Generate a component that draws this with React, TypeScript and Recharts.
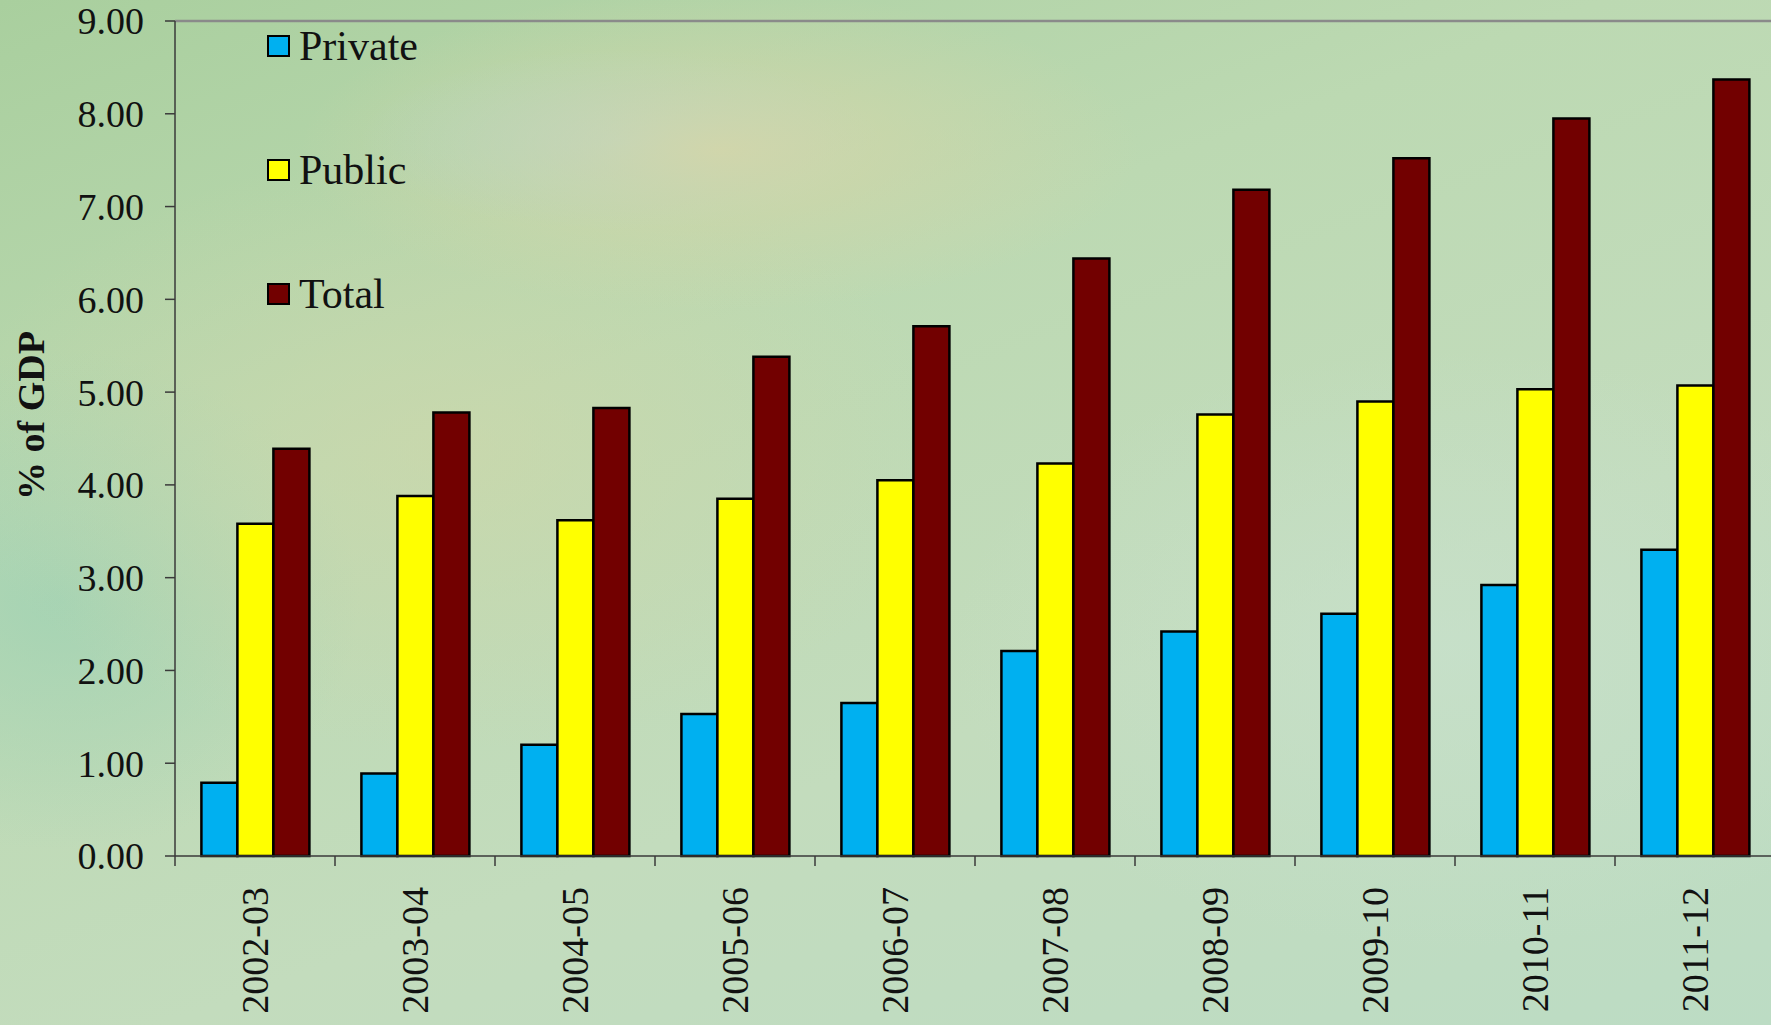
import {
  BarChart,
  Bar,
  XAxis,
  YAxis,
  Legend,
  ReferenceLine,
} from 'recharts'

const years = ['2002-03', '2003-04', '2004-05', '2005-06', '2006-07', '2007-08', '2008-09', '2009-10', '2010-11', '2011-12']
const privateShare = [0.79, 0.89, 1.2, 1.53, 1.65, 2.21, 2.42, 2.61, 2.92, 3.3]
const publicShare = [3.58, 3.88, 3.62, 3.85, 4.05, 4.23, 4.76, 4.9, 5.03, 5.07]
const totalShare = [4.39, 4.78, 4.83, 5.38, 5.71, 6.44, 7.18, 7.52, 7.95, 8.37]
const yTicks = [0, 1, 2, 3, 4, 5, 6, 7, 8, 9]

const series = [
  { key: 'Private', color: '#00b0f0', values: privateShare },
  { key: 'Public', color: '#ffff00', values: publicShare },
  { key: 'Total', color: '#720000', values: totalShare },
]

const data = years.map((year, i) => ({
  year,
  Private: privateShare[i],
  Public: publicShare[i],
  Total: totalShare[i],
}))

const FONT = '"Liberation Serif", "Times New Roman", serif'

// category ticks: marks at the band edges, rotated label in the middle
// eslint-disable-next-line @typescript-eslint/no-explicit-any
function YearTick(props: any) {
  const { x, y, payload, width, visibleTicksCount, index } = props
  const band = width / visibleTicksCount
  const last = index === visibleTicksCount - 1
  return (
    <g>
      <line x1={x - band / 2} y1={y} x2={x - band / 2} y2={y + 10} stroke="#3a3a3a" strokeWidth={1.5} />
      {last && <line x1={x + band / 2} y1={y} x2={x + band / 2} y2={y + 10} stroke="#3a3a3a" strokeWidth={1.5} />}
      <text
        transform={`translate(${x},${y + 31}) rotate(-90)`}
        textAnchor="end"
        dy="0.34em"
        fontSize={38}
        fontFamily={FONT}
        fill="#111"
      >
        {payload.value}
      </text>
    </g>
  )
}

function LegendBox() {
  return (
    <div style={{ fontFamily: FONT, fontSize: 42, color: '#111' }}>
      {series.map((s) => (
        <div key={s.key} style={{ display: 'flex', alignItems: 'center', height: 124 }}>
          <div
            style={{
              width: 19,
              height: 18,
              background: s.color,
              border: '2.5px solid #000',
              marginRight: 9,
            }}
          />
          <span style={{ lineHeight: '42px' }}>{s.key}</span>
        </div>
      ))}
    </div>
  )
}

export default function App() {
  return (
    <div
      style={{
        position: 'absolute',
        left: 0,
        top: 0,
        width: 1771,
        height: 1025,
        overflow: 'hidden',
        background:
          'radial-gradient(ellipse 420px 160px at 720px 150px, rgba(214,214,168,0.85), rgba(214,214,168,0) 100%),' +
          'radial-gradient(ellipse 260px 90px at 620px 140px, rgba(170,210,215,0.7), rgba(170,210,215,0) 100%),' +
          'radial-gradient(ellipse 500px 300px at 450px 450px, rgba(205,215,170,0.7), rgba(205,215,170,0) 100%),' +
          'radial-gradient(ellipse 300px 250px at 60px 600px, rgba(160,210,180,0.8), rgba(160,210,180,0) 100%),' +
          'radial-gradient(ellipse 500px 300px at 1450px 650px, rgba(200,225,205,0.7), rgba(200,225,205,0) 100%),' +
          'linear-gradient(160deg, #a9cf9e 0%, #bcd9b2 35%, #c3dcbd 65%, #bcdcc4 100%)',
      }}
    >
      <BarChart
        width={1800}
        height={1025}
        data={data}
        margin={{ top: 21, right: 25, bottom: 0, left: 0 }}
        barCategoryGap="16.5%"
        barGap={0}
      >
        <ReferenceLine y={9} stroke="#8a8a8a" strokeWidth={2.5} ifOverflow="visible" />
        <XAxis
          dataKey="year"
          height={169}
          axisLine={{ stroke: '#3a3a3a', strokeWidth: 1.5 }}
          tickLine={false}
          tickSize={0}
          tickMargin={0}
          interval={0}
          tick={<YearTick />}
        />
        <YAxis
          width={175}
          domain={[0, 9]}
          ticks={yTicks}
          interval={0}
          tickFormatter={(v: number) => v.toFixed(2)}
          axisLine={{ stroke: '#3a3a3a', strokeWidth: 1.5 }}
          tickLine={{ stroke: '#3a3a3a', strokeWidth: 1.5 }}
          tickSize={10}
          tickMargin={21}
          tick={{ fontSize: 38, fontFamily: FONT, fill: '#111' }}
          label={{
            // eslint-disable-next-line @typescript-eslint/no-explicit-any
            content: (p: any) => {
              const cy = p.viewBox.y + p.viewBox.height / 2 - 23
              return (
                <text
                  transform={`translate(31,${cy}) rotate(-90)`}
                  textAnchor="middle"
                  dy="0.34em"
                  fontSize={38}
                  fontWeight="bold"
                  fontFamily={FONT}
                  fill="#111"
                >
                  % of GDP
                </text>
              )
            },
          }}
        />
        <Legend
          layout="vertical"
          align="center"
          verticalAlign="middle"
          content={() => <LegendBox />}
          wrapperStyle={{ position: 'absolute', left: 267, top: -16, width: 'auto', height: 'auto' }}
        />
        {series.map((s) => (
          <Bar
            key={s.key}
            dataKey={s.key}
            fill={s.color}
            stroke="#000"
            strokeWidth={2.5}
            isAnimationActive={false}
          />
        ))}
      </BarChart>
    </div>
  )
}
